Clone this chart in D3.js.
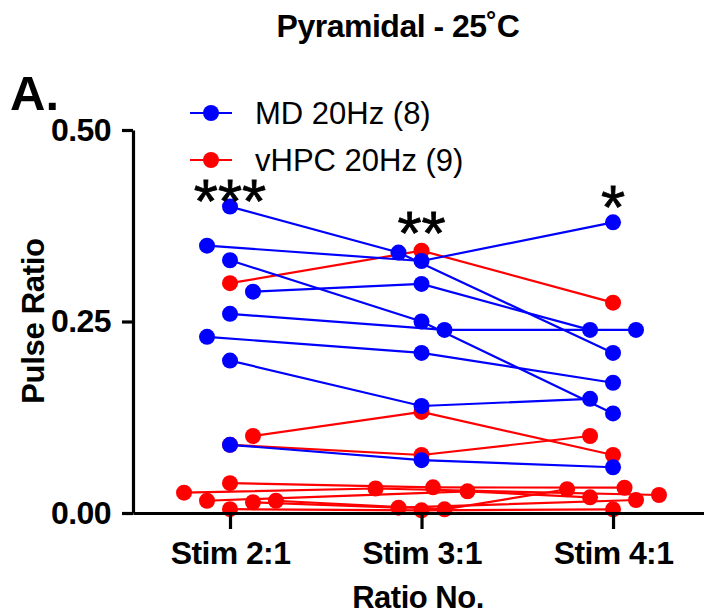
<!DOCTYPE html>
<html><head><meta charset="utf-8">
<script src="https://cdn.jsdelivr.net/npm/d3@7"></script>
<style>
html,body{margin:0;padding:0;background:#fff;}
svg{display:block;font-family:"Liberation Sans",Arial,sans-serif;}
</style></head>
<body>
<svg id="chart" width="704" height="615"></svg>
<script>
const categories = ["Stim 2:1", "Stim 3:1", "Stim 4:1"];
const yTicks = [0, 0.25, 0.5];
const seriesNames = ["MD 20Hz (8)", "vHPC 20Hz (9)"];
const significance = ["***", "**", "*"];
// MD 20Hz: one row per cell, values at Stim 2:1, 3:1, 4:1
const mdValues = [
  [0.400, 0.340, 0.209],
  [0.349, 0.329, 0.3795],
  [0.330, 0.250, 0.130],
  [0.289, 0.299, 0.239],
  [0.260, 0.239, 0.239],
  [0.230, 0.209, 0.170],
  [0.199, 0.1397, 0.149],
  [0.089, 0.069, 0.0597]
];
// horizontal scatter (in category units)
const mdJitter = [
  [0, -0.12, 0],
  [-0.12, 0, 0],
  [0, 0, 0],
  [0.12, 0, -0.12],
  [0, 0.12, 0.12],
  [-0.12, 0, 0],
  [0, 0, -0.12],
  [0, 0, 0]
];
const vhpcValues = [
  [0.300, 0.3425, 0.2746],
  [0.1005, 0.132, 0.0757],
  [0.089, 0.0757, 0.1005],
  [0.039, 0.0335, 0.033],
  [0.0265, 0.032, 0.0235],
  [0.016, 0.0283, 0.0205],
  [0.014, 0.007, 0.017],
  [0.016, 0.0048, 0.031],
  [0.005, 0.0035, 0.0048]
];
const vhpcJitter = [
  [0, 0, 0],
  [0.12, 0, 0],
  [0, 0, -0.12],
  [0, 0.06, 0.06],
  [-0.24, -0.24, 0.24],
  [-0.12, 0.24, -0.12],
  [0.12, -0.12, 0.12],
  [0.24, 0.12, -0.24],
  [0, 0, 0]
];

const svg = d3.select("#chart");
const colors = ["#0000ff", "#ff0000"];

const x = d3.scaleLinear().domain([-0.5065, 2.475]).range([133, 704]);
const y = d3.scaleLinear().domain([0, 0.5]).range([513, 130]);

// title
svg.append("text").attr("x", 398).attr("y", 37).attr("text-anchor", "middle")
  .attr("font-size", 32).attr("font-weight", "bold").attr("letter-spacing", -0.5).text("Pyramidal - 25˚C");
svg.append("text").attr("x", 10).attr("y", 110)
  .attr("font-size", 49).attr("font-weight", "bold").text("A.");

// series
function drawSeries(values, jitter, color) {
  const g = svg.append("g");
  const line = d3.line().x(d => x(d.i + d.j)).y(d => y(d.v));
  values.forEach((row, r) => {
    const pts = row.map((v, i) => ({ v, i, j: jitter[r][i] }));
    g.append("path").datum(pts).attr("d", line)
      .attr("fill", "none").attr("stroke", color).attr("stroke-width", 2.2);
    g.selectAll(null).data(pts).enter().append("circle")
      .attr("cx", d => x(d.i + d.j)).attr("cy", d => y(d.v)).attr("r", 8)
      .attr("fill", color);
  });
}
drawSeries(vhpcValues, vhpcJitter, colors[1]);
drawSeries(mdValues, mdJitter, colors[0]);

// axes
const yAxis = svg.append("g").attr("transform", "translate(133,0)")
  .call(d3.axisLeft(y).tickValues(yTicks).tickFormat(d3.format(".2f")).tickSize(11).tickSizeOuter(0).tickPadding(11));
const xAxis = svg.append("g").attr("transform", "translate(0,513)")
  .call(d3.axisBottom(x).tickValues([0, 1, 2]).tickFormat(i => categories[i]).tickSize(16).tickSizeOuter(0).tickPadding(12));
[yAxis, xAxis].forEach(a => {
  a.selectAll("path,line").attr("stroke", "#000").attr("stroke-width", 3.2);
  a.selectAll("text").attr("fill", "#000").attr("font-size", 32).attr("font-weight", "bold")
    .attr("letter-spacing", -0.6)
    .attr("font-family", "'Liberation Sans', Arial, sans-serif");
});

svg.append("text").attr("transform", "translate(44,321) rotate(-90)").attr("text-anchor", "middle")
  .attr("font-size", 31).attr("font-weight", "bold").attr("letter-spacing", -0.3).text("Pulse Ratio");
svg.append("text").attr("x", 418).attr("y", 608).attr("text-anchor", "middle")
  .attr("font-size", 31).attr("font-weight", "bold").attr("letter-spacing", -0.5).text("Ratio No.");

// significance stars
const starY = [222, 254, 228];
significance.forEach((s, i) => {
  svg.append("text").attr("x", x(i)).attr("y", starY[i]).attr("text-anchor", "middle")
    .attr("font-size", 62).attr("font-weight", "normal").attr("stroke", "#000").attr("stroke-width", 0.8).text(s);
});

// legend
const legY = [113, 160];
seriesNames.forEach((n, k) => {
  const lg = svg.append("g");
  lg.append("line").attr("x1", 190).attr("x2", 232).attr("y1", legY[k]).attr("y2", legY[k])
    .attr("stroke", colors[k]).attr("stroke-width", 2.2);
  lg.append("circle").attr("cx", 211).attr("cy", legY[k]).attr("r", 8).attr("fill", colors[k]);
  lg.append("text").attr("x", 255).attr("y", legY[k] + 11).attr("font-size", 31).text(n);
});
</script>
</body></html>
